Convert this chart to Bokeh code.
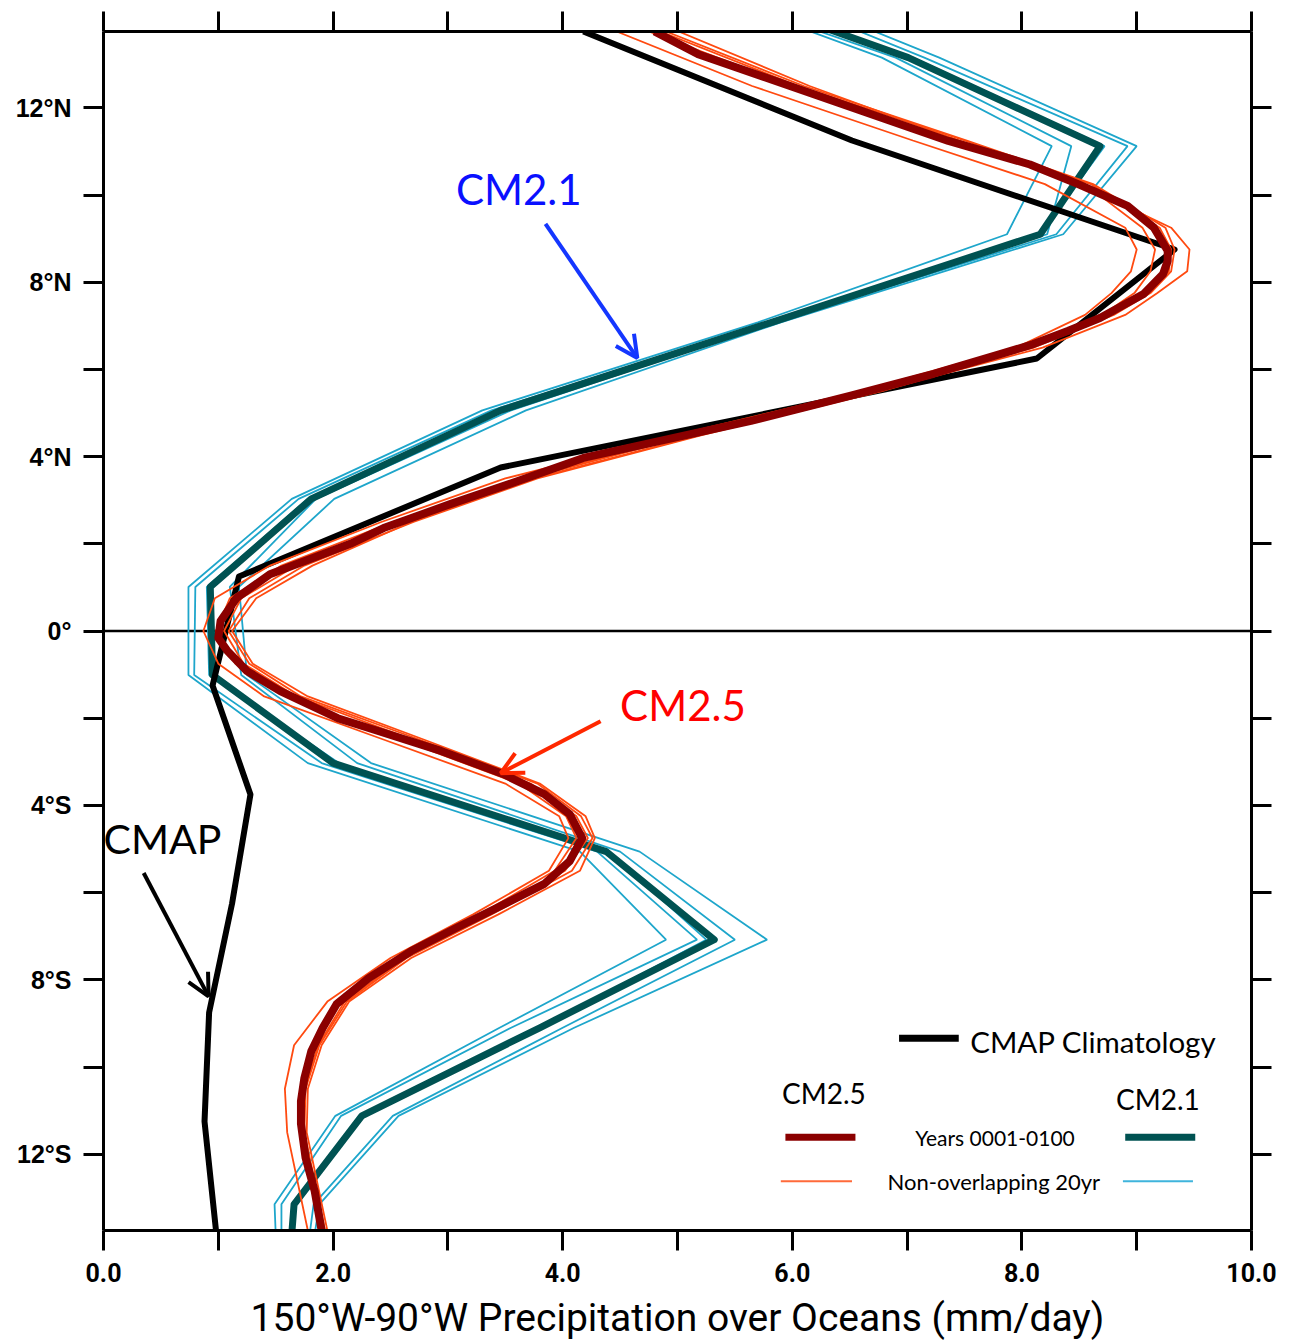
from bokeh.plotting import figure
from bokeh.models import FixedTicker, LinearAxis, Span, Label, Arrow, OpenHead, Range1d
from bokeh.embed import file_html
from bokeh.resources import INLINE

# ---------------- data ----------------
cmap_lat = [13.75, 11.25, 8.75, 6.25, 3.75, 1.25, -1.25, -3.75, -6.25, -8.75, -11.25, -13.75]
cmap_val = [4.18, 6.52, 9.33, 8.13, 3.46, 1.18, 0.95, 1.28, 1.12, 0.92, 0.88, 0.98]

cm21_lat = [15.17, 13.15, 11.12, 9.10, 7.08, 5.06, 3.03, 1.01, -1.01, -3.03, -5.06, -7.08, -9.10, -11.12, -13.15, -15.17]
cm21_mean = [4.86, 7.01, 8.68, 8.16, 5.82, 3.46, 1.81, 0.93, 0.95, 2.00, 4.38, 5.32, 3.80, 2.25, 1.66, 1.60]
cm21_20yr_1 = [4.69, 6.78, 8.26, 7.87, 5.70, 3.30, 1.64, 0.74, 0.74, 1.78, 4.15, 4.90, 3.45, 2.02, 1.49, 1.52]
cm21_20yr_2 = [4.68, 6.90, 8.43, 8.22, 5.78, 3.38, 1.70, 0.80, 0.79, 1.90, 4.30, 5.17, 3.55, 2.07, 1.55, 1.55]
cm21_20yr_3 = [4.83, 7.05, 8.72, 8.16, 5.82, 3.46, 1.78, 0.90, 0.92, 2.05, 4.40, 5.25, 3.80, 2.25, 1.66, 1.62]
cm21_20yr_4 = [5.26, 7.15, 8.92, 8.30, 5.85, 3.55, 1.85, 1.10, 1.20, 2.21, 4.50, 5.50, 4.00, 2.52, 1.83, 1.73]
cm21_20yr_5 = [5.39, 7.28, 9.00, 8.36, 5.90, 3.68, 2.01, 1.18, 1.25, 2.33, 4.67, 5.78, 4.10, 2.57, 1.88, 1.76]

cm25_lat = [13.75, 13.23, 12.5, 11.24, 10.7, 10.25, 9.75, 9.25, 8.72, 8.49,
            8.19, 7.73, 7.18, 6.88, 6.58, 6.35, 5.9, 5.4, 4.82, 4.31,
            3.97, 3.44, 2.91, 2.36, 2.0, 1.3, 0.76, 0.23, -0.16, -0.46,
            -0.92, -1.38, -2.0, -2.3, -2.75, -3.28, -3.74, -4.2, -4.75, -5.28,
            -5.8, -6.36, -6.8, -7.34, -7.96, -8.56, -9.1, -9.64, -10.25, -10.78,
            -11.3, -12.08, -12.85, -13.75]
cm25_mean = [4.80, 5.18, 5.98, 7.36, 8.07, 8.49, 8.92, 9.15, 9.27, 9.27,
             9.23, 9.06, 8.68, 8.40, 8.10, 7.81, 7.23, 6.51, 5.64, 4.76,
             4.18, 3.61, 3.02, 2.44, 2.15, 1.45, 1.16, 1.02, 1.00, 1.08,
             1.25, 1.54, 2.04, 2.40, 2.94, 3.48, 3.84, 4.06, 4.17, 4.06,
             3.84, 3.42, 3.08, 2.68, 2.31, 2.03, 1.91, 1.81, 1.75, 1.72,
             1.72, 1.76, 1.84, 1.90]

cm25_thin_lat = [13.75, 12.5, 11.25, 10.25, 9.25, 8.75, 8.25, 7.75, 7.25, 6.5,
                 5.5, 4.5, 3.5, 2.5, 1.5, 0.75, 0.0, -0.75, -1.5, -2.5,
                 -3.5, -4.25, -4.75, -5.5, -6.5, -7.5, -8.5, -9.5, -10.5, -11.5,
                 -12.5, -13.75]
cm25_20yr_1 = [4.47, 5.65, 7.05, 8.20, 8.90, 9.00, 8.95, 8.78, 8.55, 7.95,
               6.60, 5.00, 3.50, 2.42, 1.45, 0.97, 0.87, 1.00, 1.40, 2.45,
               3.50, 3.97, 4.05, 3.88, 3.22, 2.50, 1.95, 1.66, 1.58, 1.60,
               1.68, 1.78]
cm25_20yr_2 = [4.75, 6.00, 7.45, 8.55, 9.05, 9.16, 9.12, 8.98, 8.70, 8.05,
               6.75, 5.15, 3.62, 2.52, 1.55, 1.10, 0.98, 1.15, 1.60, 2.60,
               3.62, 4.03, 4.12, 3.93, 3.28, 2.56, 2.06, 1.83, 1.72, 1.71,
               1.79, 1.89]
cm25_20yr_3 = [4.85, 6.05, 7.50, 8.60, 9.20, 9.30, 9.28, 9.10, 8.76, 8.05,
               6.70, 5.12, 3.70, 2.62, 1.68, 1.20, 1.05, 1.22, 1.68, 2.70,
               3.72, 4.12, 4.22, 4.02, 3.34, 2.62, 2.10, 1.87, 1.75, 1.74,
               1.82, 1.92]
cm25_20yr_4 = [4.90, 6.10, 7.52, 8.62, 9.25, 9.33, 9.30, 9.12, 8.80, 8.10,
               6.78, 5.22, 3.78, 2.70, 1.75, 1.27, 1.09, 1.27, 1.72, 2.76,
               3.78, 4.16, 4.26, 4.08, 3.38, 2.64, 2.12, 1.88, 1.76, 1.75,
               1.83, 1.93]
cm25_20yr_5 = [5.01, 6.15, 7.45, 8.50, 9.30, 9.46, 9.44, 9.18, 8.90, 8.18,
               6.75, 5.20, 3.75, 2.68, 1.82, 1.33, 1.12, 1.30, 1.78, 2.80,
               3.80, 4.20, 4.28, 4.15, 3.44, 2.68, 2.14, 1.90, 1.78, 1.77,
               1.85, 1.95]

x_ticks = [0, 2, 4, 6, 8, 10]
x_minor = [1, 3, 5, 7, 9]
x_tick_labels = ["0.0", "2.0", "4.0", "6.0", "8.0", "10.0"]
y_ticks = [-12, -8, -4, 0, 4, 8, 12]
y_minor = [-10, -6, -2, 2, 6, 10]
y_tick_labels = ["12°S", "8°S", "4°S", "0°", "4°N", "8°N", "12°N"]

x_title = "150°W-90°W Precipitation over Oceans (mm/day)"

# colours
C_CMAP = "#000000"
C_25 = "#8b0000"
C_25_THIN = "#ff4a10"
C_21 = "#005252"
C_21_THIN = "#1ea6cb"

# ---------------- figure ----------------
p = figure(width=1293, height=1344, x_range=Range1d(0, 10), y_range=Range1d(-13.75, 13.75),
           output_backend="svg", toolbar_location=None,
           min_border_left=103, min_border_right=42, min_border_top=31, min_border_bottom=114)
p.outline_line_color = None
p.grid.visible = False
p.background_fill_color = "white"
p.border_fill_color = "white"

p.add_layout(LinearAxis(), "above")
p.add_layout(LinearAxis(), "right")


def style_axis(ax, ticks, minor, labels, show):
    ax.ticker = FixedTicker(ticks=ticks, minor_ticks=minor)
    ax.major_tick_in = 0
    ax.major_tick_out = 20
    ax.minor_tick_in = 0
    ax.minor_tick_out = 20
    ax.major_tick_line_width = 3
    ax.minor_tick_line_width = 3
    ax.axis_line_width = 3
    ax.major_tick_line_color = "black"
    ax.minor_tick_line_color = "black"
    ax.axis_line_color = "black"
    if show:
        ax.major_label_overrides = {t: l for t, l in zip(ticks, labels)}
    else:
        ax.major_label_overrides = {t: "" for t in ticks}
        ax.major_label_text_font_size = "0px"
        ax.major_label_standoff = 0


for ax in p.below:
    style_axis(ax, x_ticks, x_minor, x_tick_labels, True)
    ax.major_label_text_font = "Roboto"
    ax.major_label_text_font_style = "bold"
    ax.major_label_text_font_size = "25px"
    ax.major_label_standoff = 12
    ax.major_label_text_color = "black"
    ax.axis_label = x_title
    ax.axis_label_text_font = "Roboto"
    ax.axis_label_text_font_style = "normal"
    ax.axis_label_text_font_size = "39px"
    ax.axis_label_standoff = 10
    ax.axis_label_text_color = "black"
for ax in p.above:
    style_axis(ax, x_ticks, x_minor, x_tick_labels, False)
for ax in p.left:
    style_axis(ax, y_ticks, y_minor, y_tick_labels, True)
    ax.major_label_text_font = "Liberation Sans"
    ax.major_label_text_font_style = "bold"
    ax.major_label_text_font_size = "25px"
    ax.major_label_standoff = 12
    ax.major_label_text_color = "black"
for ax in p.right:
    style_axis(ax, y_ticks, y_minor, y_tick_labels, False)

p.add_layout(Span(location=0, dimension="width", line_color="black", line_width=2.5, level="underlay"))

# ---------------- lines ----------------
for vals in [cm21_20yr_1, cm21_20yr_2, cm21_20yr_3, cm21_20yr_4, cm21_20yr_5]:
    p.line(vals, cm21_lat, line_color=C_21_THIN, line_width=1.8)
p.line(cm21_mean, cm21_lat, line_color=C_21, line_width=7, line_join="round")
p.line(cmap_val, cmap_lat, line_color=C_CMAP, line_width=6, line_join="round")
for vals in [cm25_20yr_1, cm25_20yr_2, cm25_20yr_3, cm25_20yr_4, cm25_20yr_5]:
    p.line(vals, cm25_thin_lat, line_color=C_25_THIN, line_width=1.8)
p.line(cm25_mean, cm25_lat, line_color=C_25, line_width=8, line_join="round")

# ---------------- annotations ----------------
ANN_FONT = "Lato"
p.add_layout(Label(x=3.07, y=10.14, text="CM2.1", text_color="#0a10ff", text_font=ANN_FONT,
                   text_font_size="42px", text_baseline="middle", text_align="left"))
p.add_layout(Arrow(x_start=3.85, y_start=9.34, x_end=4.65, y_end=6.26, line_color="#1436ff", line_width=4,
                   end=OpenHead(size=22, line_width=4, line_color="#1436ff")))
p.add_layout(Label(x=4.50, y=-1.70, text="CM2.5", text_color="#ff0000", text_font=ANN_FONT,
                   text_font_size="42px", text_baseline="middle", text_align="left"))
p.add_layout(Arrow(x_start=4.33, y_start=-2.07, x_end=3.46, y_end=-3.26, line_color="#ff2800", line_width=4,
                   end=OpenHead(size=22, line_width=4, line_color="#ff2800")))
p.add_layout(Label(x=0.0, y=-4.75, text="CMAP", text_color="black", text_font=ANN_FONT,
                   text_font_size="41px", text_baseline="middle", text_align="left"))
p.add_layout(Arrow(x_start=0.35, y_start=-5.55, x_end=0.915, y_end=-8.38, line_color="black", line_width=4,
                   end=OpenHead(size=22, line_width=4, line_color="black")))

# ---------------- legend (drawn manually) ----------------
p.line([6.93, 7.45], [-9.34, -9.34], line_color=C_CMAP, line_width=7)
p.add_layout(Label(x=7.55, y=-9.41, text="CMAP Climatology", text_font=ANN_FONT, text_font_size="29.5px",
                   text_baseline="middle", text_align="left", text_color="black"))
p.add_layout(Label(x=5.91, y=-10.60, text="CM2.5", text_font=ANN_FONT, text_font_size="28px",
                   text_baseline="middle", text_align="left", text_color="black"))
p.add_layout(Label(x=8.82, y=-10.74, text="CM2.1", text_font=ANN_FONT, text_font_size="28px",
                   text_baseline="middle", text_align="left", text_color="black"))
p.line([5.94, 6.55], [-11.61, -11.61], line_color=C_25, line_width=7)
p.line([8.90, 9.51], [-11.61, -11.61], line_color=C_21, line_width=7)
p.add_layout(Label(x=7.07, y=-11.61, text="Years 0001-0100", text_font=ANN_FONT, text_font_size="21px",
                   text_baseline="middle", text_align="left", text_color="black"))
p.line([5.90, 6.52], [-12.62, -12.62], line_color="#ff6a3a", line_width=2)
p.line([8.88, 9.49], [-12.62, -12.62], line_color="#3fb4dc", line_width=2)
p.add_layout(Label(x=6.83, y=-12.62, text="Non-overlapping 20yr", text_font=ANN_FONT, text_font_size="22px",
                   text_baseline="middle", text_align="left", text_color="black"))

open("out.html", "w").write(file_html(p, INLINE))
